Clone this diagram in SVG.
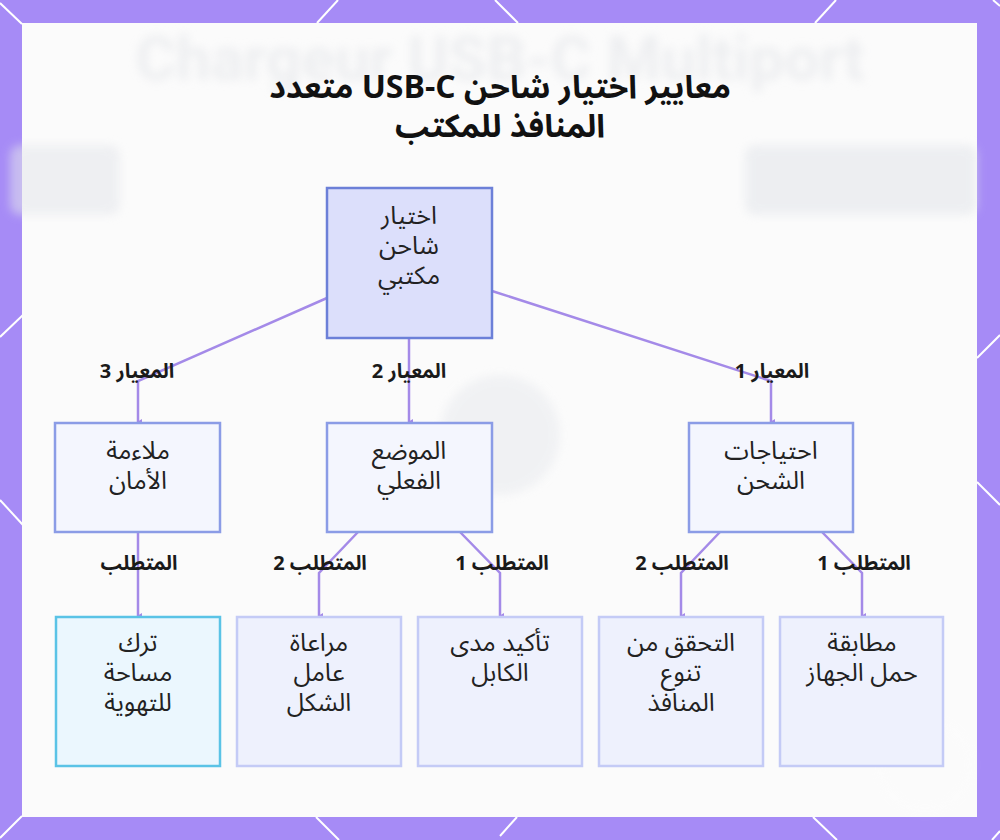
<svg xmlns="http://www.w3.org/2000/svg" width="1000" height="840" viewBox="0 0 1000 840">
<style>
.t{font-family:"Noto Sans Arabic","Noto Sans","DejaVu Sans",sans-serif;fill:#222;text-anchor:middle}
.title{font-size:32px;font-weight:bold;fill:#111}
.lbl{font-size:20px;font-weight:bold;fill:#1a1a1a}
.nt{font-size:25px}
.conn{fill:none;stroke:#a48ae8;stroke-width:2.5}
.n1{fill:#dcdffb;stroke:#6c80d8;stroke-width:2.5}
.n2{fill:#f4f6fe;stroke:#8b9ce6;stroke-width:2.5}
.n3{fill:#eef1fd;stroke:#c4cbf6;stroke-width:2.5}
.n3c{fill:#ebf7fe;stroke:#5ac3e6;stroke-width:2.5}
.deco{stroke:#ffffff;stroke-width:2;fill:none}
</style>
<defs>
<marker id="ah" markerWidth="8" markerHeight="8" refX="4" refY="6" orient="auto-start-reverse" markerUnits="userSpaceOnUse" viewBox="0 0 8 8">
<path d="M1,2 L4,7 L7,2" fill="#a48ae8"/>
</marker>
<filter id="blur" x="-20%" y="-50%" width="140%" height="200%"><feGaussianBlur stdDeviation="5"/></filter>
</defs>
<rect x="0" y="0" width="1000" height="840" fill="#a68bf6"/>
<g class="deco">
<line x1="0" y1="3" x2="22" y2="24"/>
<line x1="317" y1="23" x2="338" y2="0"/>
<line x1="495" y1="0" x2="518" y2="23"/>
<line x1="815" y1="23" x2="836" y2="0"/>
<line x1="993" y1="0" x2="1000" y2="6"/>
<line x1="0" y1="337" x2="23" y2="315"/>
<line x1="0" y1="500" x2="23" y2="525"/>
<line x1="977" y1="358" x2="1000" y2="335"/>
<line x1="977" y1="482" x2="1000" y2="505"/>
<line x1="0" y1="838" x2="22" y2="816"/>
<line x1="316" y1="817" x2="339" y2="840"/>
<line x1="517" y1="817" x2="500" y2="836"/>
<line x1="813" y1="817" x2="837" y2="840"/>
<line x1="1000" y1="831" x2="992" y2="840"/>
</g>
<rect x="22" y="23" width="955" height="794" fill="#fbfbfb"/>
<g id="background" opacity="0.55" filter="url(#blur)">
<text x="500" y="80" font-family="Roboto,'Liberation Sans',sans-serif" font-size="62" font-weight="bold" fill="#e2e4e8" text-anchor="middle">Chargeur USB-C Multiport</text>
<rect x="10" y="145" width="110" height="70" rx="10" fill="#e4e6eb"/>
<rect x="745" y="145" width="232" height="70" rx="10" fill="#e2e5ea"/>
<circle cx="500" cy="435" r="60" fill="#e8eaee"/>
<circle cx="925" cy="765" r="45" fill="none" stroke="#ffffff" stroke-width="2"/>
</g>
<text class="t title" x="500" y="98" direction="rtl">معايير اختيار شاحن USB-C متعدد</text>
<text class="t title" x="500" y="137" direction="rtl">المنافذ للمكتب</text>
<g id="connectors">
<polyline class="conn" points="327,298 138,381 138,422" marker-end="url(#ah)"/>
<polyline class="conn" points="409,338 409,422" marker-end="url(#ah)"/>
<polyline class="conn" points="492,291 771,381 771,422" marker-end="url(#ah)"/>
<polyline class="conn" points="138,532 138,616" marker-end="url(#ah)"/>
<polyline class="conn" points="358,532 319,573 319,616" marker-end="url(#ah)"/>
<polyline class="conn" points="460,532 500,573 500,616" marker-end="url(#ah)"/>
<polyline class="conn" points="720,532 681,573 681,616" marker-end="url(#ah)"/>
<polyline class="conn" points="822,532 862,573 862,616" marker-end="url(#ah)"/>
<text class="t lbl" x="137" y="378" direction="rtl">المعيار 3</text>
<text class="t lbl" x="409" y="378" direction="rtl">المعيار 2</text>
<text class="t lbl" x="772" y="378" direction="rtl">المعيار 1</text>
<text class="t lbl" x="139" y="570" direction="rtl">المتطلب</text>
<text class="t lbl" x="320" y="570" direction="rtl">المتطلب 2</text>
<text class="t lbl" x="502" y="570" direction="rtl">المتطلب 1</text>
<text class="t lbl" x="682" y="570" direction="rtl">المتطلب 2</text>
<text class="t lbl" x="864" y="570" direction="rtl">المتطلب 1</text>
</g>
<g id="root">
<rect class="n1" x="327" y="188" width="165" height="150"/>
<text class="t nt" x="409" y="224">اختيار</text>
<text class="t nt" x="409" y="254">شاحن</text>
<text class="t nt" x="409" y="284">مكتبي</text>
</g>
<g id="safety">
<rect class="n2" x="55" y="423" width="165" height="109"/>
<text class="t nt" x="138" y="459">ملاءمة</text>
<text class="t nt" x="138" y="489">الأمان</text>
</g>
<g id="placement">
<rect class="n2" x="327" y="423" width="165" height="109"/>
<text class="t nt" x="409" y="459">الموضع</text>
<text class="t nt" x="409" y="489">الفعلي</text>
</g>
<g id="charging">
<rect class="n2" x="689" y="423" width="164" height="109"/>
<text class="t nt" x="771" y="459">احتياجات</text>
<text class="t nt" x="771" y="489">الشحن</text>
</g>
<g id="ventilation">
<rect class="n3c" x="56" y="617" width="164" height="149"/>
<text class="t nt" x="138" y="651">ترك</text>
<text class="t nt" x="138" y="681">مساحة</text>
<text class="t nt" x="138" y="711">للتهوية</text>
</g>
<g id="formfactor">
<rect class="n3" x="237" y="617" width="164" height="149"/>
<text class="t nt" x="319" y="651">مراعاة</text>
<text class="t nt" x="319" y="681">عامل</text>
<text class="t nt" x="319" y="711">الشكل</text>
</g>
<g id="cable">
<rect class="n3" x="418" y="617" width="164" height="149"/>
<text class="t nt" x="500" y="651">تأكيد مدى</text>
<text class="t nt" x="500" y="681">الكابل</text>
</g>
<g id="ports">
<rect class="n3" x="599" y="617" width="164" height="149"/>
<text class="t nt" x="681" y="651">التحقق من</text>
<text class="t nt" x="681" y="681">تنوع</text>
<text class="t nt" x="681" y="711">المنافذ</text>
</g>
<g id="load">
<rect class="n3" x="780" y="617" width="163" height="149"/>
<text class="t nt" x="862" y="651">مطابقة</text>
<text class="t nt" x="862" y="681">حمل الجهاز</text>
</g>
</svg>
